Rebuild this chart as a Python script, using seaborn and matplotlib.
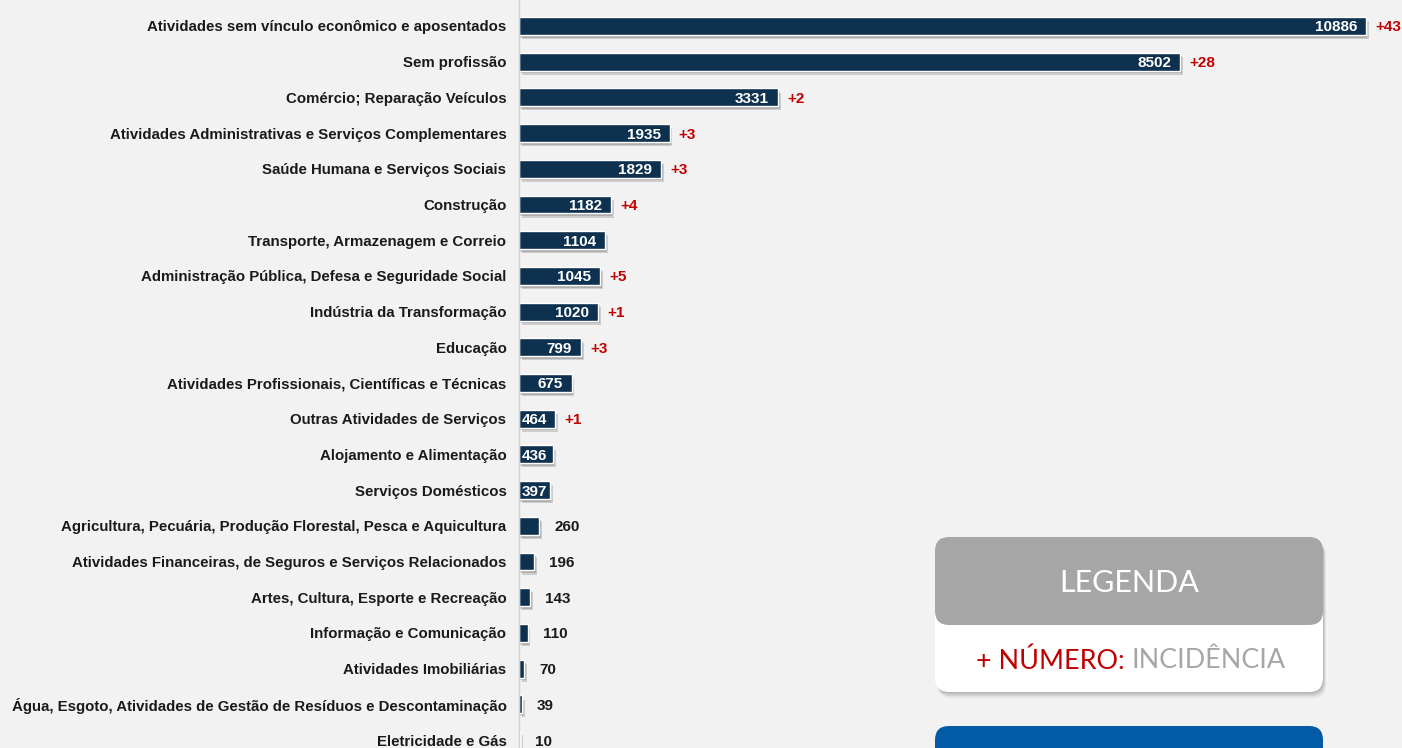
import numpy as np
import pandas as pd
import matplotlib
matplotlib.use('Agg')
import matplotlib.pyplot as plt
import seaborn as sns
from matplotlib import patheffects as pe
from matplotlib.patches import FancyBboxPatch

categories = [
    'Atividades sem vínculo econômico e aposentados',
    'Sem profissão',
    'Comércio; Reparação Veículos',
    'Atividades Administrativas e Serviços Complementares',
    'Saúde Humana e Serviços Sociais',
    'Construção',
    'Transporte, Armazenagem e Correio',
    'Administração Pública, Defesa e Seguridade Social',
    'Indústria da Transformação',
    'Educação',
    'Atividades Profissionais, Científicas e Técnicas',
    'Outras Atividades de Serviços',
    'Alojamento e Alimentação',
    'Serviços Domésticos',
    'Agricultura, Pecuária, Produção Florestal, Pesca e Aquicultura',
    'Atividades Financeiras, de Seguros e Serviços Relacionados',
    'Artes, Cultura, Esporte e Recreação',
    'Informação e Comunicação',
    'Atividades Imobiliárias',
    'Água, Esgoto, Atividades de Gestão de Resíduos e Descontaminação',
    'Eletricidade e Gás',
]
values = [10886, 8502, 3331, 1935, 1829, 1182, 1104, 1045, 1020, 799, 675,
          464, 436, 397, 260, 196, 143, 110, 70, 39, 10]
increments = [43, 28, 2, 3, 3, 4, 0, 5, 1, 3, 0, 1, 0, 0, 0, 0, 0, 0, 0, 0, 0]

BAR_COLOR = '#0e3150'
BG = '#f2f2f2'
RED = '#c00000'
W, H = 1402, 748

df = pd.DataFrame({'categoria': categories, 'casos': values})

sns.set_style('white')
plt.rcParams['font.family'] = ['Liberation Sans', 'DejaVu Sans']

fig = plt.figure(figsize=(W / 100, H / 100), dpi=100, facecolor=BG)
ax = fig.add_axes([519 / W, 0, 1 - 519 / W, 1])
ax.set_facecolor(BG)

sns.barplot(data=df, x='casos', y='categoria', orient='h', color=BAR_COLOR,
            width=0.5, saturation=1, ax=ax)

for bar in ax.patches:
    bar.set_path_effects([pe.SimplePatchShadow(offset=(2, -3), shadow_rgbFace='k', alpha=0.15),
                          pe.SimplePatchShadow(offset=(1, -2), shadow_rgbFace='k', alpha=0.15),
                          pe.Normal()])

ax.set_xlim(0, 11350)
ax.set_ylim(20.224, -0.728)
ax.set_xlabel('')
ax.set_ylabel('')
ax.set_xticks([])
ax.tick_params(axis='y', length=0, pad=9)
for lbl in ax.get_yticklabels():
    lbl.set_fontweight('bold')
    lbl.set_fontsize(10.8)
    lbl.set_color('#1a1a1a')
for s in ['top', 'right', 'bottom']:
    ax.spines[s].set_visible(False)
ax.spines['left'].set_color('#d0d0d0')
ax.spines['left'].set_linewidth(1)

for i, (v, inc) in enumerate(zip(values, increments)):
    if v >= 500:
        ax.annotate(str(v), (v, i), xytext=(-9, 0), textcoords='offset pixels',
                    ha='right', va='center_baseline', color='white', fontsize=11, fontweight='bold')
    elif v >= 300:
        ax.annotate(str(v), (0, i), xytext=(3, 0), textcoords='offset pixels',
                    ha='left', va='center_baseline', color='white', fontsize=11, fontweight='bold')
    else:
        ax.annotate(str(v), (v, i), xytext=(15, 0), textcoords='offset pixels',
                    ha='left', va='center_baseline', color='#1a1a1a', fontsize=11, fontweight='bold')
    if inc:
        ax.annotate(f'+{inc}', (v, i), xytext=(9, 0), textcoords='offset pixels',
                    ha='left', va='center_baseline', color=RED, fontsize=11, fontweight='bold')

# legend panel drawn in pixel coordinates
ov = fig.add_axes([0, 0, 1, 1])
ov.set_xlim(0, W)
ov.set_ylim(H, 0)
ov.axis('off')
ov.patch.set_alpha(0)

for d, a in [(6, 0.06), (4, 0.08), (2, 0.1)]:
    ov.add_patch(FancyBboxPatch((935 + d / 2, 537 + d), 388, 155,
                                boxstyle='round,pad=0,rounding_size=14',
                                fc='#000000', ec='none', alpha=a))
ov.add_patch(FancyBboxPatch((935, 537), 388, 155, boxstyle='round,pad=0,rounding_size=14',
                            fc='white', ec='none'))
ov.add_patch(FancyBboxPatch((935, 537), 388, 88, boxstyle='round,pad=0,rounding_size=14',
                            fc='#a6a6a6', ec='none'))
ov.text(1129, 583, 'LEGENDA', ha='center', va='center', color='white',
        fontsize=22, family=['Lato', 'DejaVu Sans'])
ov.text(1131, 661, '+ NÚMERO: ', ha='right', va='center', color=RED,
        fontsize=19.4, family=['Lato', 'DejaVu Sans'])
ov.text(1131, 661, 'INCIDÊNCIA', ha='left', va='center', color='#a6a6a6',
        fontsize=19.4, family=['Lato', 'DejaVu Sans'])

ov.add_patch(FancyBboxPatch((935, 726), 388, 80, boxstyle='round,pad=0,rounding_size=14',
                            fc='#035ba5', ec='none'))

fig.savefig('out.png', dpi=100, facecolor=BG)
